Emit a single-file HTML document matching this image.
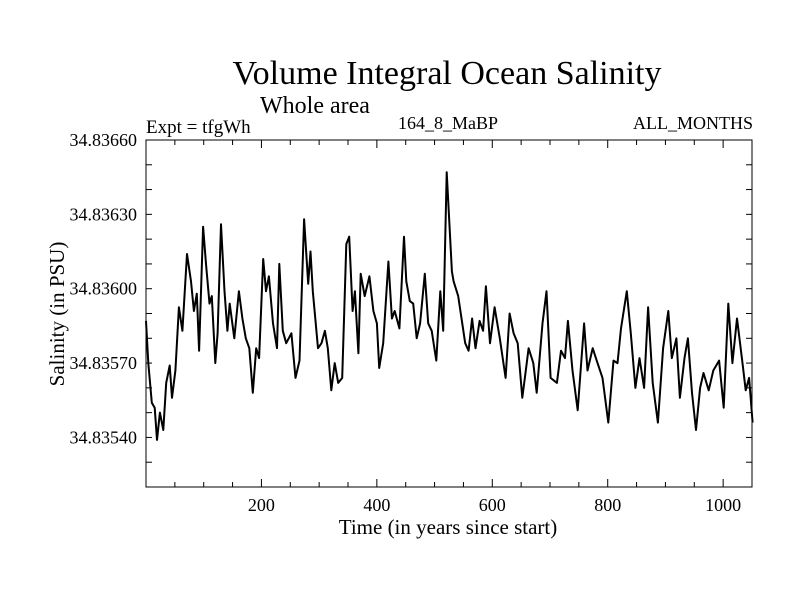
<!DOCTYPE html>
<html><head><meta charset="utf-8"><style>
body{margin:0;background:#fff}
svg{display:block;font-family:"Liberation Serif",serif}
</style></head><body>
<svg id="c" width="800" height="600">
<text x="447" y="84" font-size="34" text-anchor="middle">Volume Integral Ocean Salinity</text>
<text x="315" y="113" font-size="24" text-anchor="middle">Whole area</text>
<text x="146" y="133" font-size="19">Expt = tfgWh</text>
<text x="448" y="129" font-size="18" text-anchor="middle">164_8_MaBP</text>
<text x="753" y="129" font-size="18" text-anchor="end">ALL_MONTHS</text>
<text x="448" y="534" font-size="21" text-anchor="middle">Time (in years since start)</text>
<text transform="translate(64,314) rotate(-90)" font-size="21" text-anchor="middle">Salinity (in PSU)</text>
<g id="ticks"></g>
<polyline id="series" fill="none" stroke="#000" stroke-width="2" stroke-linejoin="round"/>
<rect x="146" y="140" width="606" height="347" fill="none" stroke="#000" stroke-width="1"/>
</svg>
<script>
const years=[0,4,10,15,19,24,30,35,41,45,51,57,63,71,78,83,88,92,99,104,110,114,120,124,130,136,141,145,153,161,167,173,179,185,191,196,203,208,213,220,227,231,237,243,252,259,266,274,281,285,289,298,304,310,315,321,327,333,340,347,352,358,362,368,372,379,387,394,400,404,411,420,426,431,439,447,451,457,463,469,475,483,489,495,503,510,515,521,530,533,541,553,559,565,571,578,584,589,596,604,613,623,630,637,644,652,658,663,671,677,687,694,701,712,719,726,731,739,748,759,765,774,781,791,801,810,817,823,833,840,848,855,863,870,878,887,896,905,911,919,925,933,939,946,953,960,966,975,983,993,1001,1009,1016,1024,1033,1039,1045,1051];
const salinity=[34.83587,34.8357,34.83554,34.83552,34.83539,34.8355,34.83543,34.83562,34.83569,34.83556,34.83567,34.835925,34.83583,34.83614,34.83603,34.83591,34.83598,34.83575,34.83625,34.8361,34.83594,34.83597,34.8357,34.83582,34.83626,34.83599,34.83583,34.83594,34.8358,34.83599,34.83588,34.8358,34.83576,34.83558,34.83576,34.83572,34.83612,34.83599,34.83605,34.83586,34.83576,34.8361,34.83583,34.83578,34.83582,34.83564,34.83571,34.83628,34.83602,34.83615,34.83599,34.83576,34.83578,34.83583,34.83576,34.83559,34.8357,34.83562,34.83564,34.83618,34.83621,34.83591,34.83599,34.83574,34.83606,34.83597,34.83605,34.83591,34.83586,34.83568,34.83578,34.83611,34.83588,34.83591,34.83584,34.83621,34.83603,34.83595,34.83594,34.8358,34.83586,34.83606,34.83586,34.83583,34.83571,34.83599,34.83583,34.83647,34.83607,34.83603,34.83597,34.83578,34.83575,34.83588,34.83576,34.83587,34.83583,34.83601,34.83578,34.835925,34.8358,34.83564,34.8359,34.83582,34.83578,34.83556,34.83567,34.83576,34.8357,34.83558,34.83586,34.83599,34.83564,34.83562,34.83575,34.83572,34.83587,34.83567,34.83551,34.83586,34.83567,34.83576,34.83571,34.83564,34.83546,34.83571,34.8357,34.83584,34.83599,34.83582,34.8356,34.83572,34.8356,34.835925,34.83562,34.83546,34.83576,34.83591,34.83572,34.8358,34.83556,34.83572,34.8358,34.83558,34.83543,34.8356,34.83566,34.83559,34.83567,34.83571,34.83552,34.83594,34.8357,34.83588,34.83571,34.83559,34.83564,34.83546];
const xTickLabels=[200,400,600,800,1000];
const yTickLabels=["34.83540","34.83570","34.83600","34.83630","34.83660"];
const X0=146,X1=752,Y0=487,Y1=140,XMIN=0,XMAX=1050,YMIN=34.8352,YMAX=34.8366;
const sx=v=>X0+(v-XMIN)/(XMAX-XMIN)*(X1-X0);
const sy=v=>Y0-(v-YMIN)/(YMAX-YMIN)*(Y0-Y1);
const NS="http://www.w3.org/2000/svg";
const line=document.getElementById('series');
line.setAttribute('points',years.map((y,i)=>sx(y).toFixed(1)+','+sy(salinity[i]).toFixed(1)).join(' '));
const g=document.getElementById('ticks');
function ln(x1,y1,x2,y2){const l=document.createElementNS(NS,'line');l.setAttribute('x1',x1);l.setAttribute('y1',y1);l.setAttribute('x2',x2);l.setAttribute('y2',y2);l.setAttribute('stroke','#000');


g.appendChild(l);}
for(let v=50;v<XMAX;v+=50){const x=sx(v);const L=v%200===0?8:5;ln(x,Y0,x,Y0-L);ln(x,Y1,x,Y1+L);}
for(let k=0;k<=14;k++){const y=sy(YMIN+k*0.0001);ln(X0,y,X0+6,y);ln(X1,y,X1-6,y);}
xTickLabels.forEach(v=>{const t=document.createElementNS(NS,'text');t.setAttribute('x',sx(v));t.setAttribute('y',511);t.setAttribute('font-size','18');t.setAttribute('text-anchor','middle');t.textContent=v;


g.appendChild(t);});
yTickLabels.forEach(s=>{const t=document.createElementNS(NS,'text');t.setAttribute('x',137);t.setAttribute('y',sy(parseFloat(s))+6);t.setAttribute('font-size','18');t.setAttribute('text-anchor','end');t.textContent=s;


g.appendChild(t);});
</script>
</body></html>
